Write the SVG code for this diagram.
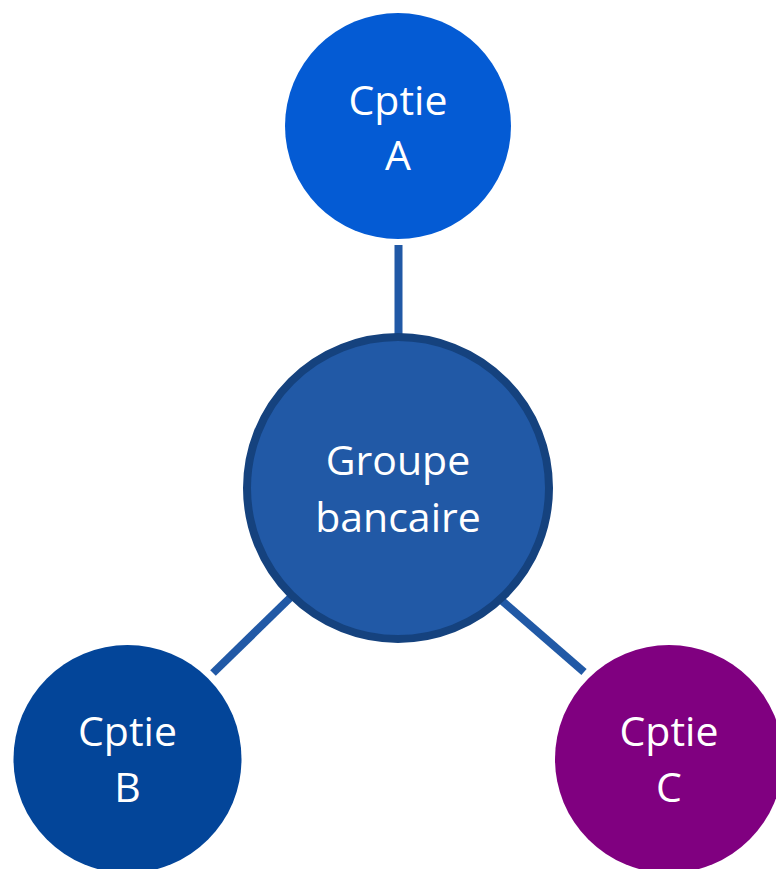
<svg xmlns="http://www.w3.org/2000/svg" width="776" height="869" viewBox="0 0 776 869">
<style>
.lbl{font-family:"Open Sans","Noto Sans",sans-serif;font-size:41px;fill:#ffffff;text-anchor:middle}
.conn{stroke:#2159A6;stroke-width:8;fill:none}
</style>
<rect width="776" height="869" fill="#ffffff"/>
<g id="connectors">
<line class="conn" x1="398.5" y1="245" x2="398.5" y2="336"/>
<line class="conn" x1="213" y1="673" x2="292" y2="596"/>
<line class="conn" x1="500" y1="599" x2="584" y2="672"/>
</g>
<g id="node-a">
<circle cx="398" cy="126" r="113" fill="#045BD4"/>
<text class="lbl" x="398" y="115">Cptie</text>
<text class="lbl" x="398" y="170">A</text>
</g>
<g id="node-groupe">
<circle cx="398" cy="488" r="151" fill="#2159A6" stroke="#15427E" stroke-width="8"/>
<text class="lbl" x="398" y="475">Groupe</text>
<text class="lbl" x="398" y="532">bancaire</text>
</g>
<g id="node-b">
<circle cx="127.5" cy="759" r="114" fill="#034599"/>
<text class="lbl" x="127.5" y="746">Cptie</text>
<text class="lbl" x="127.5" y="802">B</text>
</g>
<g id="node-c">
<circle cx="669" cy="759" r="114" fill="#800080"/>
<text class="lbl" x="669" y="746">Cptie</text>
<text class="lbl" x="669" y="802">C</text>
</g>
</svg>
